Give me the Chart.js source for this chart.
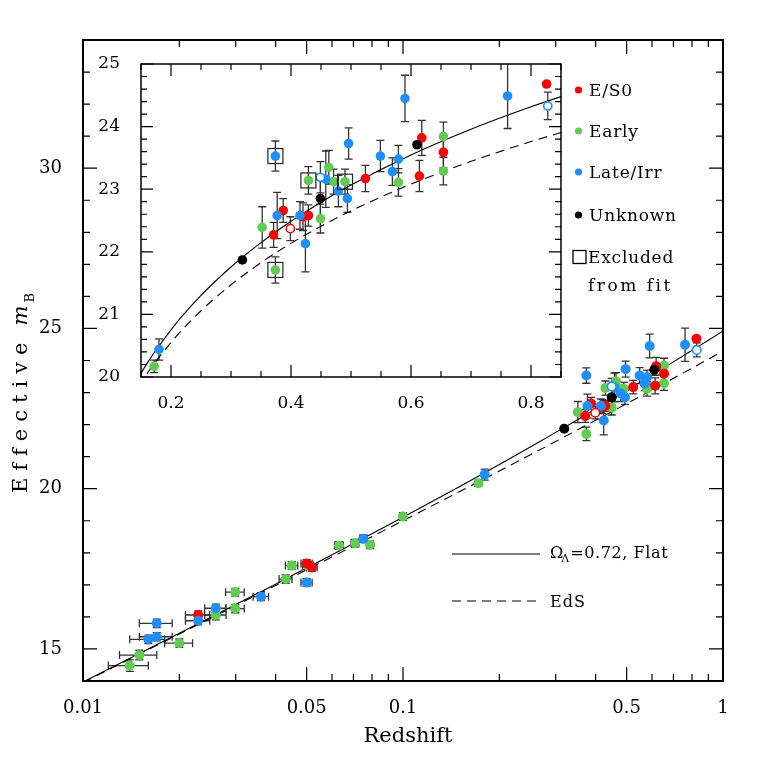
<!DOCTYPE html>
<html>
<head>
<meta charset="utf-8">
<script src="https://cdn.jsdelivr.net/npm/chart.js@4.4.1/dist/chart.umd.min.js"></script>
<style>
  html, body { margin: 0; padding: 0; background: #fff; }
  #wrap { position: relative; width: 763px; height: 763px; }
  #wrap canvas { position: absolute; left: 0; top: 0; }
</style>
</head>
<body>
<div id="wrap">
  <canvas id="main" width="763" height="763"></canvas>
  <canvas id="inset" width="763" height="763"></canvas>
</div>
<script>
// points: [redshift, m_B, error in m_B, error in z]
const esoPts = [
  [0.0229, 16.06, 0.13, 0.002], [0.0500, 17.67, 0.12, 0.002], [0.0519, 17.54, 0.12, 0.002],
  [0.371, 22.27, 0.20, 0], [0.387, 22.66, 0.19, 0], [0.420, 22.56, 0.22, 0],
  [0.429, 22.58, 0.17, 0], [0.524, 23.17, 0.21, 0], [0.614, 23.21, 0.25, 0],
  [0.618, 23.82, 0.28, 0], [0.654, 23.59, 0.25, 0], [0.826, 24.68, 0, 0]
];
const esoOpenPts = [[0.399, 22.37, 0.19, 0]];
const earlyPts = [
  [0.0140, 14.48, 0.18, 0.002], [0.0150, 14.81, 0.15, 0.002], [0.0200, 15.18, 0.13, 0.002],
  [0.0260, 16.06, 0.15, 0.002], [0.0299, 16.26, 0.13, 0.002], [0.0299, 16.77, 0.12, 0.002],
  [0.0430, 17.18, 0.13, 0.002], [0.0449, 17.60, 0.12, 0.002], [0.0505, 17.60, 0.12, 0.002],
  [0.0631, 18.23, 0.12, 0.002], [0.0708, 18.30, 0.12, 0.002], [0.0789, 18.25, 0.12, 0.002],
  [0.100, 19.13, 0.12, 0.0025],
  [0.172, 20.17, 0.10, 0], [0.352, 22.39, 0.33, 0], [0.374, 21.71, 0.21, 0],
  [0.429, 23.14, 0.22, 0], [0.449, 22.53, 0.23, 0], [0.463, 23.35, 0.27, 0],
  [0.471, 23.12, 0.20, 0], [0.490, 23.12, 0.20, 0], [0.579, 23.11, 0.22, 0],
  [0.654, 23.84, 0.23, 0], [0.654, 23.29, 0.22, 0]
];
const latePts = [
  [0.0160, 15.30, 0.13, 0.002], [0.0170, 15.38, 0.13, 0.002], [0.0170, 15.80, 0.13, 0.002],
  [0.0229, 15.88, 0.13, 0.002], [0.0260, 16.27, 0.13, 0.002], [0.0360, 16.63, 0.12, 0.002],
  [0.0500, 17.07, 0.12, 0.002], [0.0752, 18.44, 0.12, 0.002],
  [0.180, 20.44, 0.17, 0], [0.374, 23.53, 0.24, 0], [0.377, 22.58, 0.37, 0],
  [0.415, 22.58, 0.22, 0], [0.424, 22.13, 0.45, 0], [0.458, 23.16, 0.45, 0],
  [0.479, 22.97, 0.25, 0], [0.494, 22.85, 0.22, 0], [0.496, 23.73, 0.25, 0],
  [0.549, 23.53, 0.25, 0], [0.569, 23.28, 0.22, 0], [0.579, 23.48, 0.22, 0],
  [0.590, 24.45, 0.37, 0], [0.761, 24.49, 0.52, 0]
];
const lateOpenPts = [[0.449, 23.19, 0.25, 0], [0.828, 24.33, 0.22, 0]];
const unknownPts = [[0.319, 21.87, 0, 0], [0.449, 22.85, 0.30, 0], [0.610, 23.71, 0, 0]];
const excludedPts = [[0.374, 23.53], [0.374, 21.71], [0.429, 23.14], [0.490, 23.12]];

// model curves
const curveZ = [0.01, 0.015, 0.02, 0.03, 0.04, 0.05, 0.07, 0.1, 0.15, 0.2, 0.25, 0.3,
  0.35, 0.4, 0.45, 0.5, 0.6, 0.7, 0.8, 0.85, 0.9, 1.0];
const flatM = [13.967, 14.856, 15.489, 16.386, 17.022, 17.528, 18.290, 19.110, 20.062, 20.754,
  21.302, 21.757, 22.146, 22.488, 22.793, 23.068, 23.548, 23.958, 24.316, 24.479, 24.633, 24.918];
const edsM = [13.955, 14.839, 15.466, 16.352, 16.981, 17.471, 18.212, 19.001, 19.905, 20.552,
  21.058, 21.473, 21.827, 22.135, 22.408, 22.654, 23.081, 23.445, 23.761, 23.905, 24.042, 24.294];

// tick labels and tick marks
const mainXTicks = [0.01, 0.05, 0.1, 0.5, 1];
const mainXLabels = ['0.01', '0.05', '0.1', '0.5', '1'];
const mainXMinor = [0.02, 0.03, 0.04, 0.06, 0.07, 0.08, 0.09, 0.2, 0.3, 0.4, 0.6, 0.7, 0.8, 0.9];
const mainYTicks = [15, 20, 25, 30];
const mainYMinor = [16, 17, 18, 19, 21, 22, 23, 24, 26, 27, 28, 29, 31, 32, 33];
const insetXTicks = [0.2, 0.4, 0.6, 0.8];
const insetXLabels = ['0.2', '0.4', '0.6', '0.8'];
const insetXMinor = [0.15, 0.25, 0.3, 0.35, 0.45, 0.5, 0.55, 0.65, 0.7, 0.75, 0.85];
const insetYTicks = [20, 21, 22, 23, 24, 25];
const insetYMinor = [];
for (let v = 20.2; v < 25; v += 0.2) insetYMinor.push(+v.toFixed(1));

const classNames = ['E/S0', 'Early', 'Late/Irr', 'Unknown'];
const excludedLabel = ['Excluded', 'from fit'];
const modelNames = ['=0.72, Flat', 'EdS'];

const RED = '#ff0000', GREEN = '#62cc52', BLUE = '#1f8fff', BLACK = '#000000';
const FONT = '"DejaVu Serif", "Liberation Serif", serif';

const toPts = arr => arr.map(([z, m, dm, dz]) => ({ x: z, y: m, dy: dm, dx: dz }));
const curve = (ms, zmin) => curveZ.map((z, i) => ({ x: z, y: ms[i] })).filter(p => p.x >= zmin);

function pointSets(zmin, r) {
  const f = arr => toPts(arr).filter(p => p.x >= zmin);
  const filled = (data, c) => ({ data, errors: true, backgroundColor: c, borderColor: c,
    borderWidth: 0, pointRadius: r, pointHoverRadius: r });
  const open = (data, c) => ({ data, errors: true, backgroundColor: '#fff', borderColor: c,
    borderWidth: 1.6, pointRadius: r - 0.7, pointHoverRadius: r - 0.7 });
  return [
    open(f(lateOpenPts), BLUE),
    open(f(esoOpenPts), RED),
    filled(f(latePts), BLUE),
    filled(f(unknownPts), BLACK),
    filled(f(esoPts), RED),
    filled(f(earlyPts), GREEN)
  ];
}

function curveSets(zmin) {
  const line = (data, dash) => ({ data, showLine: true, pointRadius: 0, pointHoverRadius: 0,
    borderColor: '#000', borderWidth: 1.1, borderDash: dash, fill: false,
    cubicInterpolationMode: 'monotone' });
  return [line(curve(edsM, zmin), [9, 6]), line(curve(flatM, zmin), [])];
}

const errorBars = {
  id: 'errorBars',
  beforeDatasetsDraw(chart) {
    const { ctx, chartArea: a, scales: { x, y } } = chart;
    ctx.save();
    ctx.beginPath();
    ctx.rect(a.left, a.top, a.right - a.left, a.bottom - a.top);
    ctx.clip();
    ctx.strokeStyle = '#333';
    ctx.lineWidth = 1.3;
    chart.data.datasets.forEach(ds => {
      if (!ds.errors) return;
      ds.data.forEach(p => {
        const px = x.getPixelForValue(p.x), py = y.getPixelForValue(p.y);
        ctx.beginPath();
        if (p.dy) {
          const t = y.getPixelForValue(p.y + p.dy), b = y.getPixelForValue(p.y - p.dy);
          ctx.moveTo(px, t); ctx.lineTo(px, b);
          ctx.moveTo(px - 4, t); ctx.lineTo(px + 4, t);
          ctx.moveTo(px - 4, b); ctx.lineTo(px + 4, b);
        }
        if (p.dx) {
          const l = x.getPixelForValue(p.x - p.dx), r = x.getPixelForValue(p.x + p.dx);
          ctx.moveTo(l, py); ctx.lineTo(r, py);
          ctx.moveTo(l, py - 4); ctx.lineTo(l, py + 4);
          ctx.moveTo(r, py - 4); ctx.lineTo(r, py + 4);
        }
        ctx.stroke();
      });
    });
    ctx.restore();
  }
};

function frameTicks(spec) {
  return {
    id: 'frameTicks',
    afterDraw(chart) {
      const { ctx, chartArea: a, scales: { x, y } } = chart;
      ctx.save();
      ctx.strokeStyle = '#000';
      ctx.lineWidth = 1.2;
      ctx.beginPath();
      const xt = (vals, len) => vals.forEach(v => {
        const px = x.getPixelForValue(v);
        ctx.moveTo(px, a.bottom); ctx.lineTo(px, a.bottom - len);
        ctx.moveTo(px, a.top); ctx.lineTo(px, a.top + len);
      });
      const yt = (vals, len) => vals.forEach(v => {
        const py = y.getPixelForValue(v);
        ctx.moveTo(a.left, py); ctx.lineTo(a.left + len, py);
        ctx.moveTo(a.right, py); ctx.lineTo(a.right - len, py);
      });
      xt(spec.xMajor, spec.major); xt(spec.xMinor, spec.minor);
      yt(spec.yMajor, spec.major); yt(spec.yMinor, spec.minor);
      ctx.stroke();
      ctx.lineWidth = spec.frame;
      ctx.strokeRect(a.left, a.top, a.right - a.left, a.bottom - a.top);
      ctx.restore();
    }
  };
}

// spaced text drawn char by char
function spacedText(ctx, str, x, y, gap) {
  for (const ch of str) {
    ctx.fillText(ch, x, y);
    x += ctx.measureText(ch).width + gap;
  }
  return x;
}

const mainLabels = {
  id: 'mainLabels',
  afterDraw(chart) {
    const ctx = chart.ctx;
    ctx.save();
    ctx.fillStyle = '#000';
    ctx.textBaseline = 'alphabetic';
    // x title
    ctx.font = '21px ' + FONT;
    ctx.textAlign = 'center';
    ctx.fillText('Redshift', 408, 742);
    // y title
    ctx.textAlign = 'left';
    ctx.translate(27, 493);
    ctx.rotate(-Math.PI / 2);
    let cx = spacedText(ctx, 'Effective', 0, 0, 7);
    ctx.font = 'italic 21px ' + FONT;
    cx = spacedText(ctx, 'm', cx + 10, 0, 0);
    ctx.font = '13px ' + FONT;
    ctx.fillText('B', cx + 3, 7);
    ctx.setTransform(1, 0, 0, 1, 0, 0);

    // model legend
    ctx.strokeStyle = '#000';
    ctx.lineWidth = 1.1;
    ctx.beginPath();
    ctx.moveTo(452, 554); ctx.lineTo(540, 554);
    ctx.stroke();
    ctx.setLineDash([9, 6]);
    ctx.beginPath();
    ctx.moveTo(452, 601); ctx.lineTo(540, 601);
    ctx.stroke();
    ctx.setLineDash([]);
    ctx.font = '16px ' + FONT;
    ctx.fillText('\u03A9', 550, 558);
    let lx = 550 + ctx.measureText('\u03A9').width - 2;
    ctx.font = '11px ' + FONT;
    ctx.fillText('\u039B', lx, 562);
    lx += ctx.measureText('\u039B').width + 1;
    ctx.font = '16px ' + FONT;
    spacedText(ctx, modelNames[0], lx, 558, 0.6);
    spacedText(ctx, modelNames[1], 550, 606.5, 1);
    ctx.restore();
  }
};

const insetExtras = {
  id: 'insetExtras',
  afterDatasetsDraw(chart) {
    const { ctx, scales: { x, y } } = chart;
    ctx.save();
    ctx.strokeStyle = '#222';
    ctx.lineWidth = 1.2;
    excludedPts.forEach(([z, m]) => {
      const px = x.getPixelForValue(z), py = y.getPixelForValue(m);
      ctx.strokeRect(px - 7.5, py - 7.5, 15, 15);
    });
    ctx.restore();
  },
  afterDraw(chart) {
    const ctx = chart.ctx;
    ctx.save();
    ctx.font = '17px ' + FONT;
    ctx.textBaseline = 'alphabetic';
    ctx.fillStyle = '#000';
    const colors = [RED, GREEN, BLUE, BLACK];
    const rows = [90, 131, 172, 215];
    classNames.forEach((name, i) => {
      ctx.fillStyle = colors[i];
      ctx.beginPath();
      ctx.arc(578.5, rows[i], 3.6, 0, Math.PI * 2);
      ctx.fill();
      ctx.fillStyle = '#000';
      spacedText(ctx, name, 589, rows[i] + 6, 0.8);
    });
    ctx.strokeStyle = '#000';
    ctx.lineWidth = 1.3;
    ctx.strokeRect(573, 250.5, 13, 13);
    spacedText(ctx, excludedLabel[0], 588, 263, 0.8);
    spacedText(ctx, excludedLabel[1], 588, 291, 2.5);
    ctx.restore();
  }
};

const tickFont = size => ({ family: FONT, size });

new Chart(document.getElementById('main'), {
  type: 'scatter',
  data: { datasets: [...pointSets(0, 5), ...curveSets(0)] },
  options: {
    responsive: false,
    animation: false,
    events: [],
    layout: { padding: { left: 0, top: 40, right: 40, bottom: 0 } },
    plugins: { legend: { display: false }, tooltip: { enabled: false } },
    scales: {
      x: {
        type: 'logarithmic', min: 0.01, max: 1,
        grid: { display: false }, border: { display: false },
        afterBuildTicks: s => { s.ticks = mainXTicks.map(v => ({ value: v })); },
        afterFit: s => { s.height = 82; },
        ticks: { font: tickFont(18), color: '#000', padding: 9, maxRotation: 0, autoSkip: false,
          callback: (v, i) => mainXLabels[i] }
      },
      y: {
        type: 'linear', min: 14, max: 34,
        grid: { display: false }, border: { display: false },
        afterBuildTicks: s => { s.ticks = mainYTicks.map(v => ({ value: v })); },
        afterFit: s => { s.width = 83; },
        ticks: { font: tickFont(18), color: '#000', padding: 13, callback: v => String(v) }
      }
    }
  },
  plugins: [errorBars, frameTicks({ xMajor: mainXTicks, xMinor: mainXMinor, yMajor: mainYTicks,
    yMinor: mainYMinor, major: 14, minor: 7, frame: 2 }), mainLabels]
});

new Chart(document.getElementById('inset'), {
  type: 'scatter',
  data: { datasets: [...pointSets(0.15, 4.8), ...curveSets(0.1)] },
  options: {
    responsive: false,
    animation: false,
    events: [],
    layout: { padding: { left: 60, top: 64, right: 202, bottom: 340 } },
    plugins: { legend: { display: false }, tooltip: { enabled: false } },
    scales: {
      x: {
        type: 'linear', min: 0.15, max: 0.85,
        grid: { display: false }, border: { display: false },
        afterBuildTicks: s => { s.ticks = insetXTicks.map(v => ({ value: v })); },
        afterFit: s => { s.height = 46; },
        ticks: { font: tickFont(17), color: '#000', padding: 8, maxRotation: 0, autoSkip: false,
          callback: (v, i) => insetXLabels[i] }
      },
      y: {
        type: 'linear', min: 20, max: 25,
        grid: { display: false }, border: { display: false },
        afterBuildTicks: s => { s.ticks = insetYTicks.map(v => ({ value: v })); },
        afterFit: s => { s.width = 81; },
        ticks: { font: tickFont(17), color: '#000', padding: 13, callback: v => String(v) }
      }
    }
  },
  plugins: [errorBars, frameTicks({ xMajor: insetXTicks, xMinor: insetXMinor, yMajor: insetYTicks,
    yMinor: insetYMinor, major: 12, minor: 6, frame: 1.5 }), insetExtras]
});
</script>
</body>
</html>
